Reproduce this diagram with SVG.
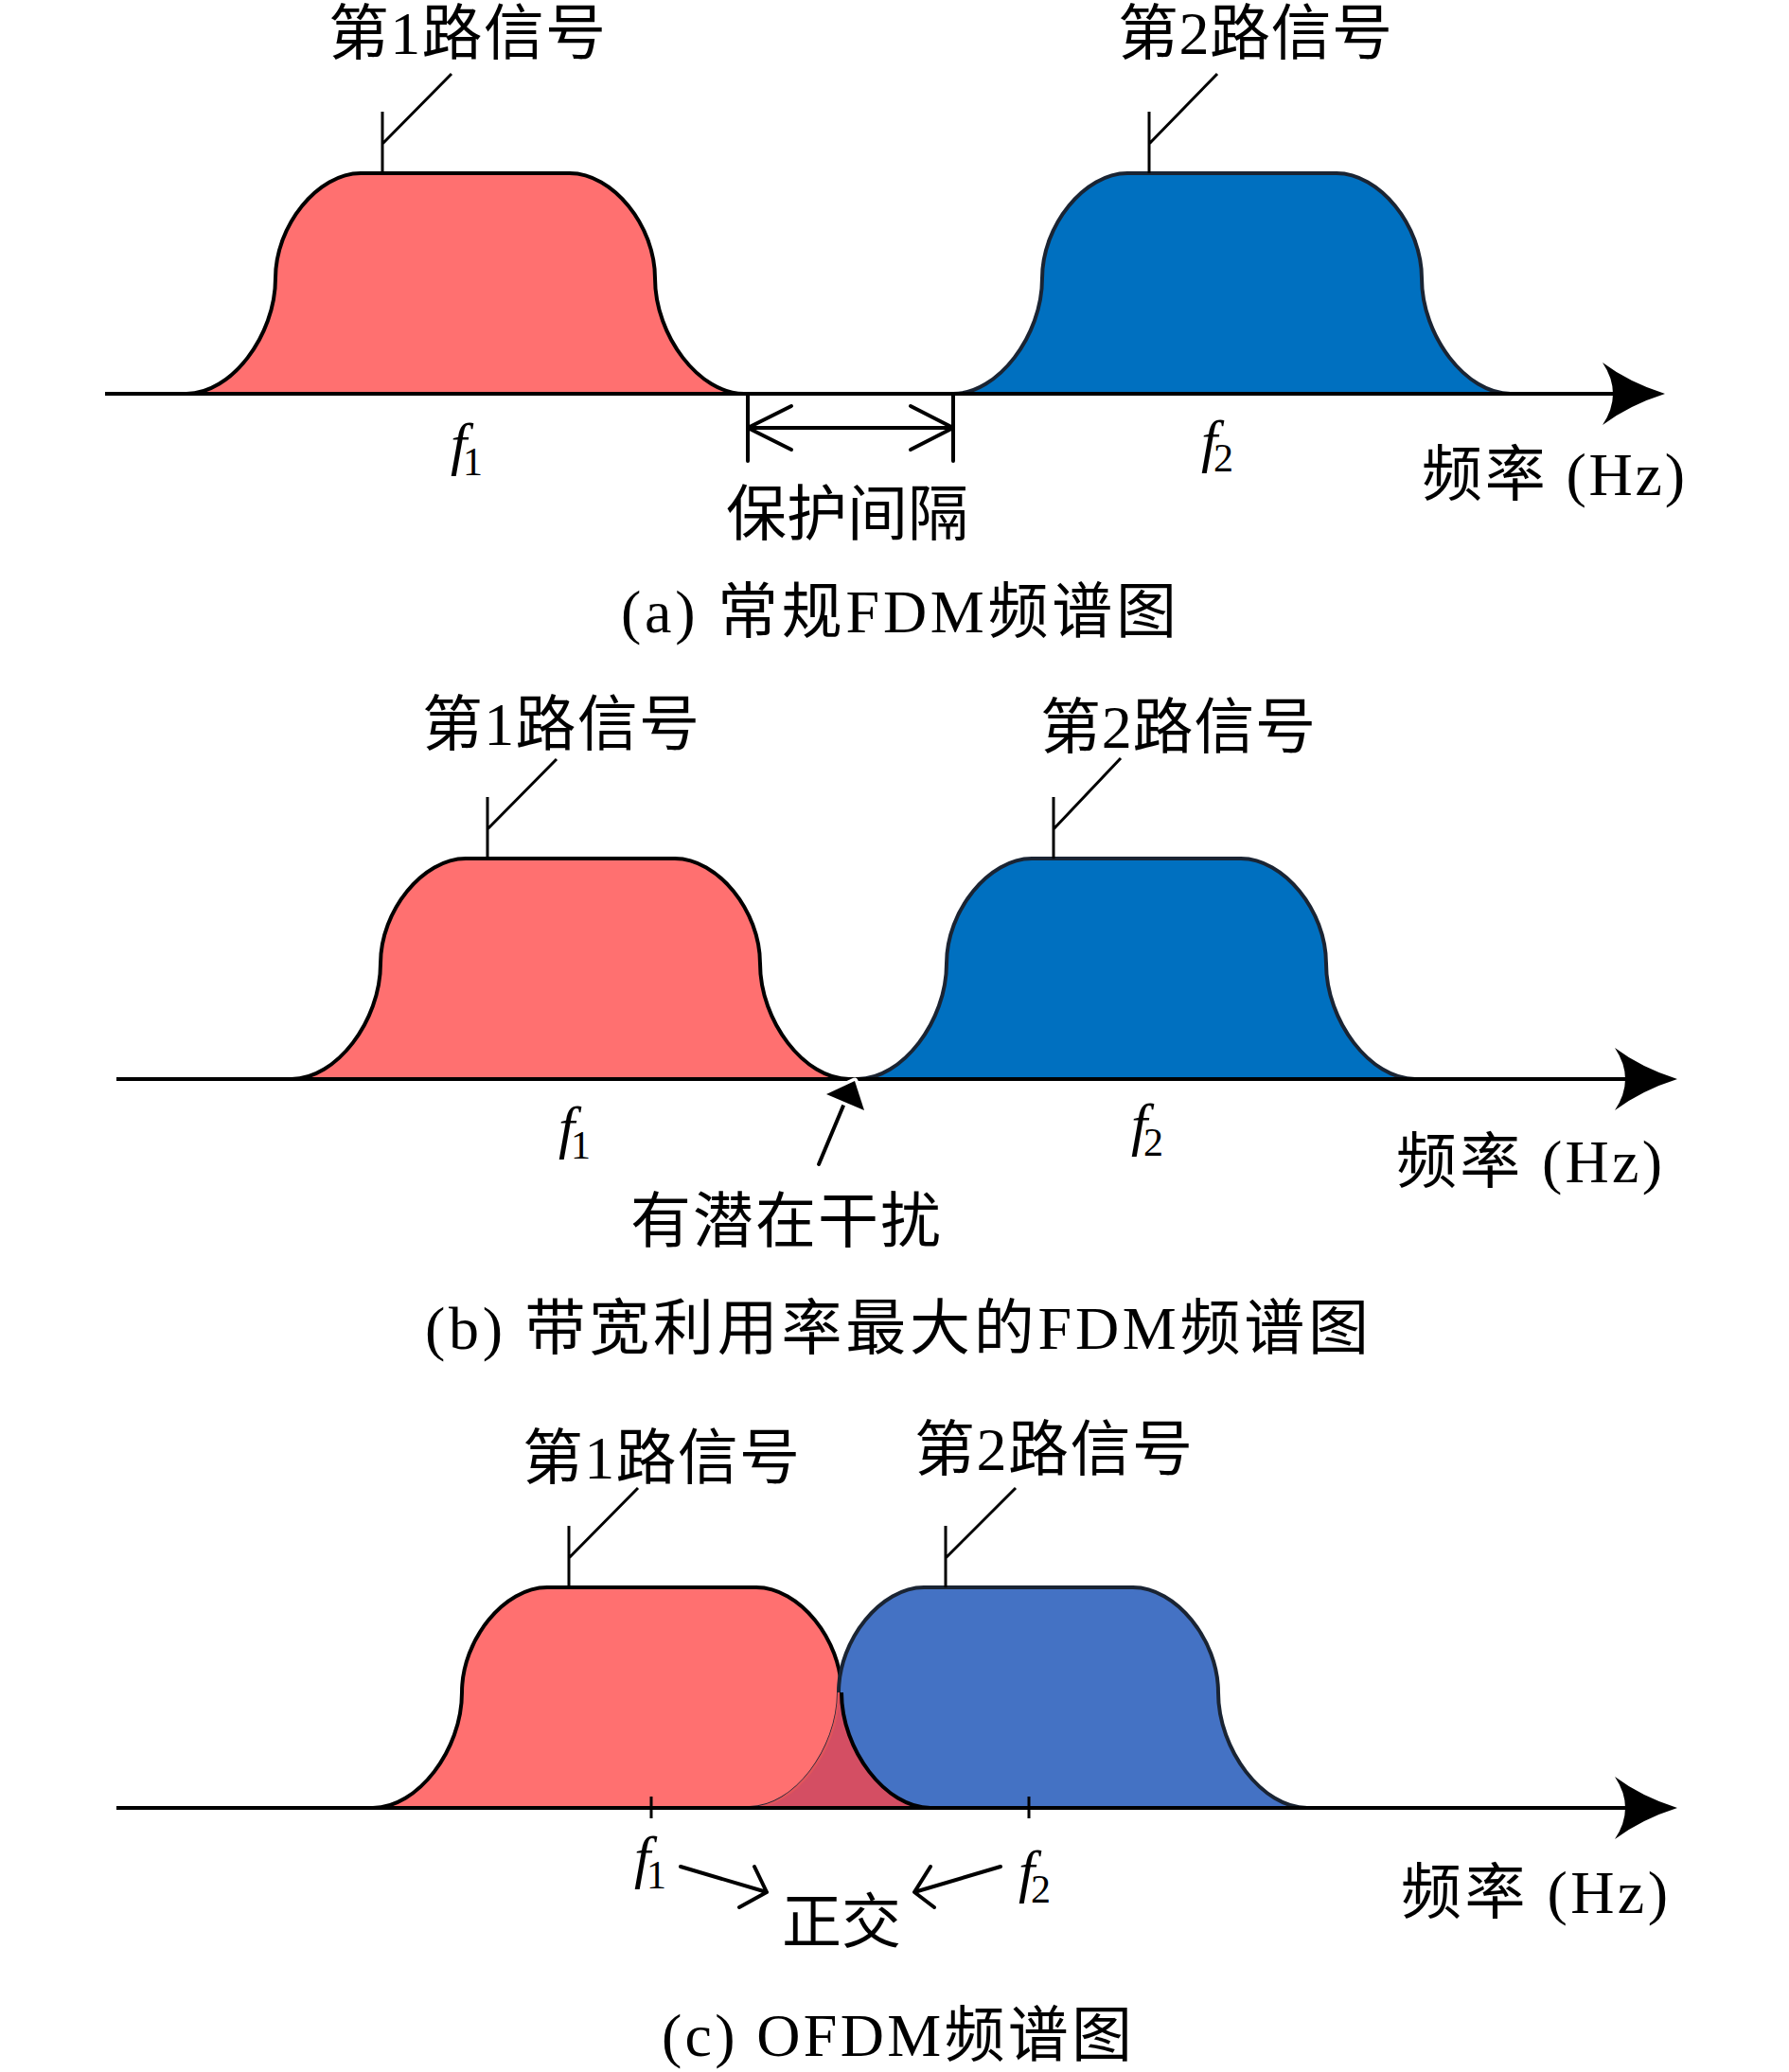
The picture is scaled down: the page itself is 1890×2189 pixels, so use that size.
<svg xmlns="http://www.w3.org/2000/svg" width="1890" height="2189" viewBox="0 0 1890 2189">
<style>
text { font-family: "Liberation Serif", "Noto Sans CJK SC", serif; fill: #000; }
.lbl { font-size: 64px; }
.mi { font-size: 62px; font-style: italic; }
.sub { font-size: 42px; }
.axis { stroke: #000; stroke-width: 4; fill: none; }
.lead { stroke: #000; stroke-width: 3; fill: none; }
.arr { stroke: #000; stroke-width: 4; fill: none; stroke-linecap: round; stroke-linejoin: round; }
.tick { stroke: #000; stroke-width: 3; }
.red { fill: #FF7070; stroke: #000; stroke-width: 4; }
.blue1 { fill: #0070C0; stroke: #1A2433; stroke-width: 4; }
.blue2 { fill: #4472C4; stroke: #1A2433; stroke-width: 4; }
.head { fill: #000; }
</style>
<defs>
<path id="bump" d="M0,0 C47,0 94,-61 94,-122 C94,-178 139,-233 184,-233 H405 C450,-233 495,-178 495,-122 C495,-61 542,0 589,0 Z"/>
<path id="axhead" d="M0,0 Q-38,-12 -66,-33 Q-44,0 -66,33 Q-38,12 0,0 Z"/>
</defs>

<!-- Panel (a) -->
<g id="a-sig1">
<use href="#bump" class="red" transform="translate(197,416)"/>
<text class="lbl" x="347" y="57" textLength="293">第1路信号</text>
</g>
<g id="a-sig2">
<use href="#bump" class="blue1" transform="translate(1007,416)"/>
<text class="lbl" x="1181" y="57" textLength="290">第2路信号</text>
</g>
<g id="a-labels">
<text class="mi" x="476" y="490">f</text><text class="sub" x="489" y="502">1</text>
<text class="mi" x="1269" y="487">f</text><text class="sub" x="1282" y="498">2</text>
<text class="lbl" x="767" y="565">保护间隔</text>
<text class="lbl" x="1502" y="523" textLength="278">频率 (Hz)</text>
<text class="lbl" x="656" y="668" textLength="587">(a) 常规FDM频谱图</text>
</g>

<!-- Panel (b) -->
<g id="b-sig1">
<use href="#bump" class="red" transform="translate(308,1140)"/>
<text class="lbl" x="446" y="787" textLength="293">第1路信号</text>
</g>
<g id="b-sig2">
<use href="#bump" class="blue1" transform="translate(906,1140)"/>
<text class="lbl" x="1099" y="790" textLength="291">第2路信号</text>
</g>
<g id="b-labels">
<text class="mi" x="590" y="1212">f</text><text class="sub" x="603" y="1224">1</text>
<text class="mi" x="1195" y="1209">f</text><text class="sub" x="1208" y="1221">2</text>
<text class="lbl" x="666" y="1312" textLength="328">有潜在干扰</text>
<text class="lbl" x="1475" y="1249" textLength="281">频率 (Hz)</text>
<text class="lbl" x="449" y="1425" textLength="997">(b) 带宽利用率最大的FDM频谱图</text>
</g>

<!-- Panel (c) -->
<g id="c-sig1">
<use href="#bump" class="red" transform="translate(394,1910)"/>
<text class="lbl" x="552" y="1562" textLength="293">第1路信号</text>
</g>
<g id="c-sig2">
<use href="#bump" class="blue2" transform="translate(792,1910)"/>
<text class="lbl" x="966" y="1553" textLength="294">第2路信号</text>
</g>
<g id="c-overlap">
<path d="M886,1788 C886,1849 839,1910 792,1910 L983,1910 C936,1910 889,1849 889,1788 Z" fill="#D44E63"/>
<path d="M886,1788 C886,1849 839,1910 792,1910" fill="none" stroke="#E0545C" stroke-width="2.5"/>
<path d="M889,1788 C889,1849 936,1910 983,1910" fill="none" stroke="#000" stroke-width="4"/>
</g>
<g id="c-labels">
<text class="mi" x="670" y="1983">f</text><text class="sub" x="683" y="1995">1</text>
<text class="mi" x="1076" y="1998">f</text><text class="sub" x="1089" y="2010">2</text>
<text class="lbl" x="826" y="2052" style="font-size:63px">正交</text>
<text class="lbl" x="1480" y="2021" textLength="282">频率 (Hz)</text>
<text class="lbl" x="699" y="2172" textLength="497">(c) OFDM频谱图</text>
</g>

<g id="connectors">
<!-- leaders -->
<path class="lead" d="M404,183 V118 M404,152 L477,78"/>
<path class="lead" d="M1214,183 V118 M1214,152 L1286,78"/>
<path class="lead" d="M515,907 V842 M515,876 L588,802"/>
<path class="lead" d="M1113,907 V842 M1113,876 L1184,801"/>
<path class="lead" d="M601,1677 V1612 M601,1646 L674,1572"/>
<path class="lead" d="M999,1677 V1612 M999,1646 L1073,1572"/>
<!-- axes -->
<line class="axis" x1="111" y1="416" x2="1720" y2="416"/>
<use href="#axhead" class="head" transform="translate(1759,416)"/>
<line class="axis" x1="123" y1="1140" x2="1733" y2="1140"/>
<use href="#axhead" class="head" transform="translate(1772,1140)"/>
<line class="axis" x1="123" y1="1910" x2="1733" y2="1910"/>
<use href="#axhead" class="head" transform="translate(1772,1910)"/>
<!-- guard interval -->
<path class="arr" d="M790,416 V487 M1007,416 V487 M790,452 H1007 M836,429 L790,452 L836,475 M962,429 L1007,452 L962,475"/>
<!-- interference arrow -->
<line class="arr" x1="865" y1="1230" x2="891" y2="1168"/>
<polygon points="903,1142 873,1156 913,1173" fill="#000" stroke="#fff" stroke-width="7" stroke-linejoin="round" paint-order="stroke"/>
<!-- ticks -->
<line class="tick" x1="688" y1="1898" x2="688" y2="1921"/>
<line class="tick" x1="1087" y1="1898" x2="1087" y2="1921"/>
<!-- orthogonal arrows -->
<path class="arr" d="M719,1972 L810,1999 M797,1972 L810,1999 L781,2015"/>
<path class="arr" d="M1057,1972 L966,1999 M983,1972 L966,1999 L987,2015"/>
</g>
</svg>
